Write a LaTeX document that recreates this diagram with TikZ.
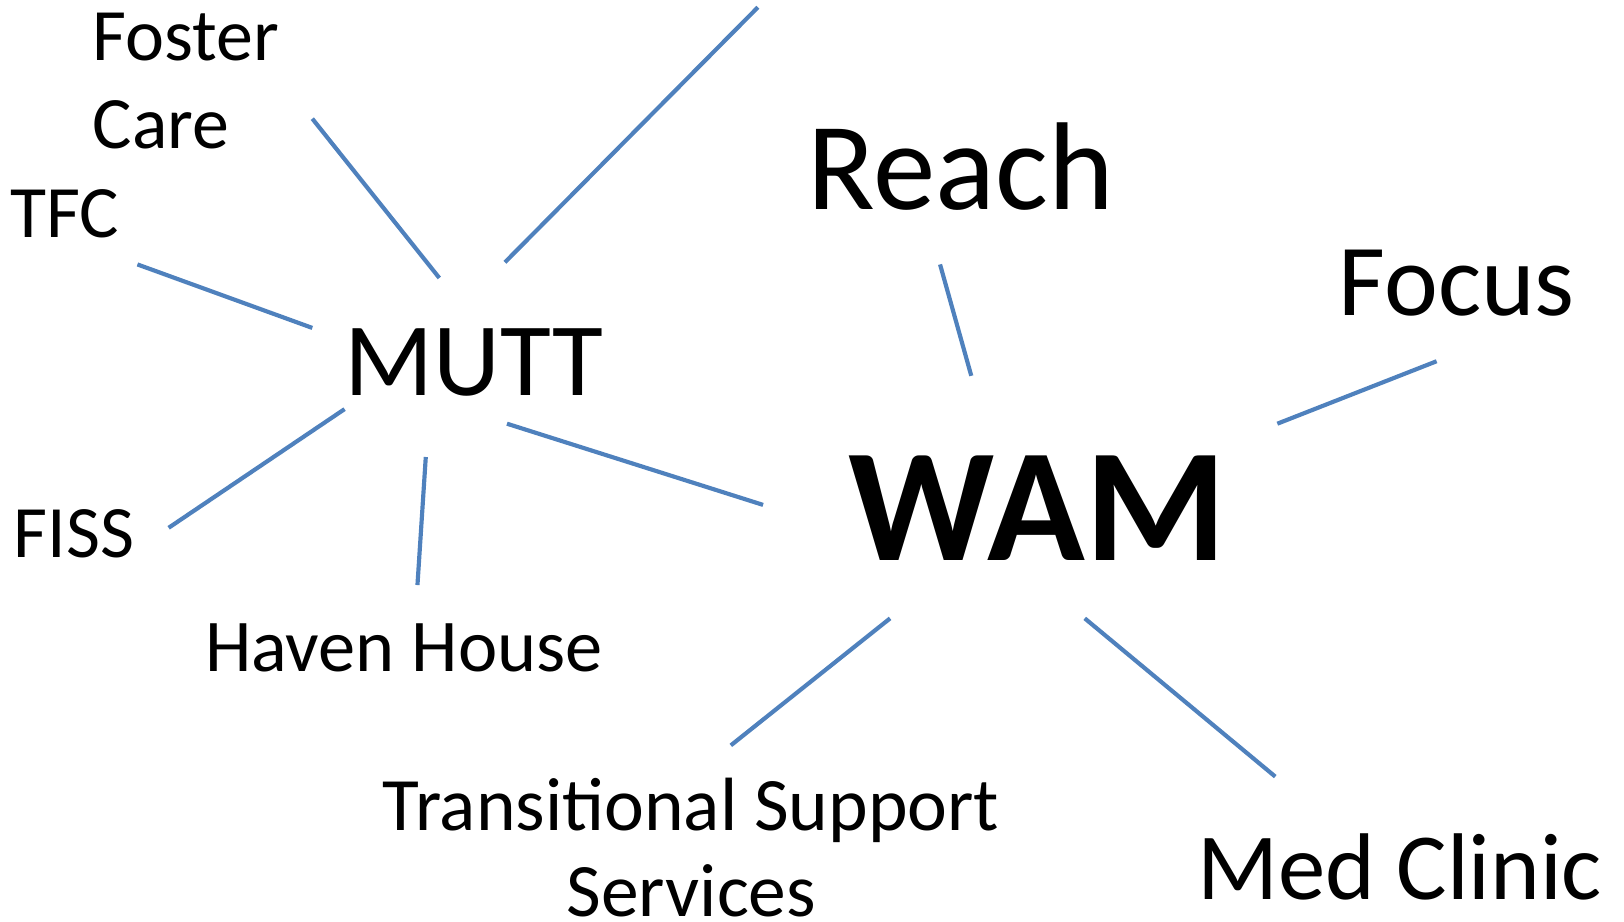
\documentclass[tikz,border=0pt]{standalone}
\usepackage{fontspec}
\setmainfont{Carlito}
\begin{document}
\begin{tikzpicture}[x=1pt,y=-1pt,
  lbl/.style={anchor=base west,inner sep=0pt,outer sep=0pt},
  conn/.style={draw=linkblue,line width=4pt}]
\definecolor{linkblue}{HTML}{4F81BD}
\useasboundingbox (0,0) rectangle (1560,885);
% labels
\node[lbl,align=left,font=\fontsize{71}{85}\selectfont] (foster) at (89,143) {Foster\\Care};
\node[lbl,font=\fontsize{71}{85}\selectfont] (tfc) at (10,228) {TFC};
\node[lbl,font=\fontsize{100}{110}\selectfont] (mutt) at (331,380) {MUTT};
\node[lbl,font=\fontsize{120}{130}\selectfont] (reach) at (776,201) {Reach};
\node[lbl,font=\fontsize{98}{110}\selectfont] (focus) at (1286,303) {Focus};
\node[lbl,font=\fontsize{155}{160}\selectfont\bfseries] (wam) at (815,538) {WAM};
\node[lbl,font=\fontsize{71}{85}\selectfont] (fiss) at (13,536) {FISS};
\node[lbl,font=\fontsize{71.5}{85}\selectfont] (haven) at (197,645) {Haven House};
\node[lbl,anchor=base,align=center,font=\fontsize{72.5}{82}\selectfont] (tss) at (664,880) {Transitional Support\\Services};
\node[lbl,font=\fontsize{91}{110}\selectfont] (med) at (1150,864) {Med Clinic};
% connector ends
\coordinate (fc1) at (300,114);  \coordinate (fc2) at (422,267);
\coordinate (top1) at (728,7);   \coordinate (top2) at (485,252);
\coordinate (tf1) at (132,254);  \coordinate (tf2) at (300,315);
\coordinate (fi1) at (331,393);  \coordinate (fi2) at (162,507);
\coordinate (hh1) at (409,439);  \coordinate (hh2) at (401,562);
\coordinate (mw1) at (487,407);  \coordinate (mw2) at (733,485);
\coordinate (re1) at (903,254);  \coordinate (re2) at (933,361);
\coordinate (fo1) at (1380,347); \coordinate (fo2) at (1227,407);
\coordinate (ts1) at (855,594);  \coordinate (ts2) at (702,716);
\coordinate (mc1) at (1042,594); \coordinate (mc2) at (1225,746);
\draw[conn] (fc1) -- (fc2);
\draw[conn] (top1) -- (top2);
\draw[conn] (tf1) -- (tf2);
\draw[conn] (fi1) -- (fi2);
\draw[conn] (hh1) -- (hh2);
\draw[conn] (mw1) -- (mw2);
\draw[conn] (re1) -- (re2);
\draw[conn] (fo1) -- (fo2);
\draw[conn] (ts1) -- (ts2);
\draw[conn] (mc1) -- (mc2);
\end{tikzpicture}
\end{document}
